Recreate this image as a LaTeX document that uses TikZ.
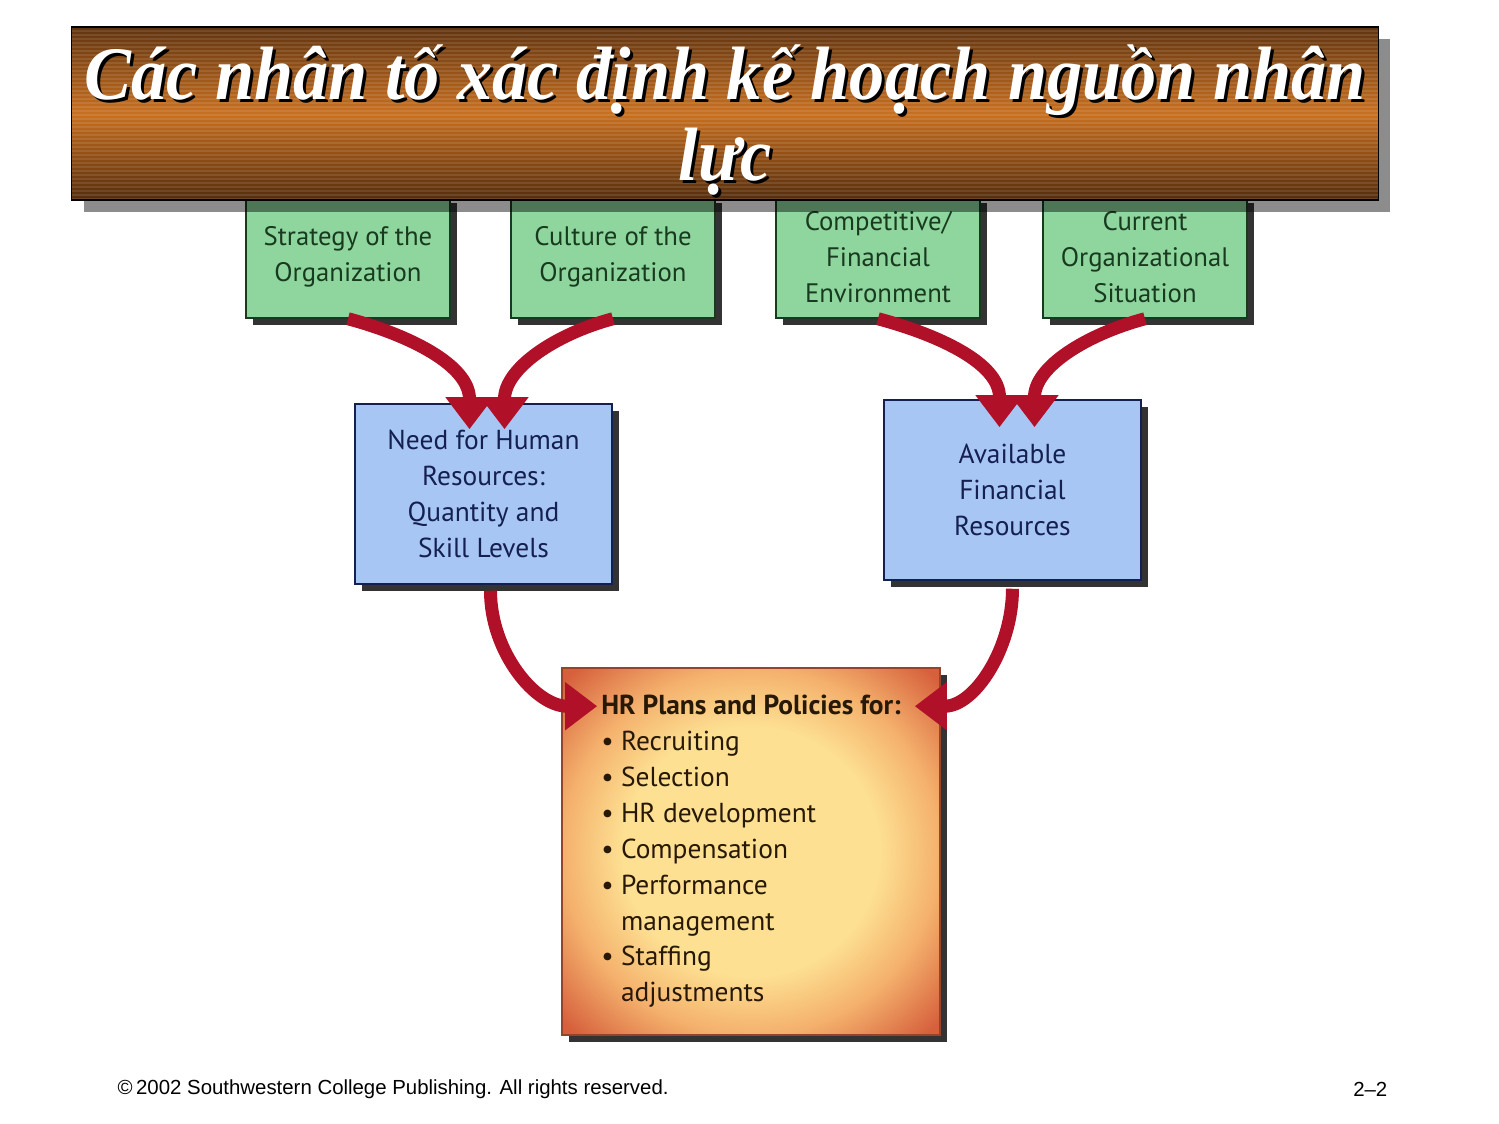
\documentclass[tikz,border=0pt]{standalone}
\usepackage{fontspec}
\usepackage{tikz}
\usetikzlibrary{calc,shadows,arrows.meta}

\newfontfamily\boxfont{PT Sans}
\newfontfamily\titlefont[FakeStretch=0.93]{Liberation Serif}
\newfontfamily\footfont{Liberation Sans}

\definecolor{factgreen}{RGB}{142,214,158}
\definecolor{factdark}{RGB}{24,58,30}
\definecolor{resblue}{RGB}{168,198,244}
\definecolor{resdark}{RGB}{20,32,80}
\definecolor{hrcenter}{RGB}{253,224,146}
\definecolor{hrmid}{RGB}{244,176,108}
\definecolor{hredge}{RGB}{214,96,60}
\definecolor{hrdark}{RGB}{40,24,6}
\definecolor{arrowred}{RGB}{176,16,40}
\definecolor{woodtop}{RGB}{96,52,16}
\definecolor{woodmid}{RGB}{200,112,32}
\definecolor{woodbot}{RGB}{84,44,12}
\pgfdeclareradialshading{hrglow}{\pgfpoint{0bp}{0bp}}{color(0bp)=(hrcenter); color(17bp)=(hrcenter); color(25bp)=(hrmid); color(34bp)=(hredge); color(50bp)=(hredge)}

\begin{document}
\begin{tikzpicture}[x=0.01cm, y=-0.01cm,
    factorbox/.style={draw=factdark, fill=factgreen, text=factdark, minimum width=2.04cm, minimum height=1.22cm, align=center,
        font=\boxfont\fontsize{7.6}{10.2}\selectfont, drop shadow={shadow xshift=0.07cm, shadow yshift=-0.07cm, fill=black, opacity=0.8}},
    resbox/.style={draw=resdark, fill=resblue, text=resdark, minimum width=2.57cm, minimum height=1.8cm, align=center,
        font=\boxfont\fontsize{7.8}{10.3}\selectfont, drop shadow={shadow xshift=0.07cm, shadow yshift=-0.07cm, fill=black, opacity=0.8}},
    planbox/.style={draw=hredge!70!black, shading=hrglow, text=hrdark, minimum width=3.78cm, minimum height=3.67cm, align=left,
        font=\boxfont\fontsize{7.8}{10.2}\selectfont, drop shadow={shadow xshift=0.07cm, shadow yshift=-0.07cm, fill=black, opacity=0.8}},
    banner/.style={draw=black, minimum width=13.06cm, minimum height=1.73cm, top color=woodtop, bottom color=woodbot, middle color=woodmid,
        drop shadow={shadow xshift=0.12cm, shadow yshift=-0.12cm, fill=black, opacity=0.45},
        path picture={\foreach \k in {1,...,43} \draw[white, opacity=0.1, line width=0.015cm]
            ([yshift=-\k*0.04cm]path picture bounding box.north west) -- ([yshift=-\k*0.04cm]path picture bounding box.north east);}},
    titletext/.style={anchor=base, font=\titlefont\bfseries\itshape\fontsize{21.5}{23}\selectfont},
    flowarrow/.style={arrowred, line width=0.13cm, -{Triangle[width=0.46cm, length=0.32cm]}},
    footnote/.style={font=\footfont\fontsize{5.8}{7}\selectfont, text=black, inner sep=0pt}]

    \useasboundingbox (0,0) rectangle (1499,1124);

    \node[factorbox] (strat) at (348,257) {Strategy of the\\Organization};
    \node[factorbox] (cult) at (613,257) {Culture of the\\Organization};
    \node[factorbox] (comp) at (878,257) {Competitive/\\Financial\\Environment};
    \node[factorbox] (curr) at (1145,257) {Current\\Organizational\\Situation};

    \node[banner] (banner) at (725,113.5) {};
    \node[titletext, text=black] (title1s) at (728,103) {Các nhân tố xác định kế hoạch nguồn nhân};
    \node[titletext, text=white] (title1) at (725,100) {Các nhân tố xác định kế hoạch nguồn nhân};
    \node[titletext, text=black] (title2s) at (728,183) {lực};
    \node[titletext, text=white] (title2) at (725,180) {lực};

    \node[resbox] (need) at (483.5,494) {Need for Human\\Resources:\\Quantity and\\Skill Levels};
    \node[resbox] (fin) at (1012.5,490) {Available\\Financial\\Resources};

    \node[planbox] (hr) at (751,851.5) {\textbf{HR Plans and Policies for:}\\
        • Recruiting\\
        • Selection\\
        • HR development\\
        • Compensation\\
        • Performance\\
        \phantom{• }management\\
        • Staffing\\
        \phantom{• }adjustments};

    \draw[flowarrow] (strat.south) to[out=-15, in=90] ($(need.north)+(-14,26)$);
    \draw[flowarrow] (cult.south) to[out=195, in=90] ($(need.north)+(21,26)$);
    \draw[flowarrow] (comp.south) to[out=-15, in=90] ($(fin.north)+(-13,28)$);
    \draw[flowarrow] (curr.south) to[out=195, in=90] ($(fin.north)+(22,28)$);
    \draw[flowarrow] ($(need.south)+(7,6)$) to[out=-90, in=180] ($(hr.north west)+(36,39)$);
    \draw[flowarrow] ($(fin.south)+(0,8)$) to[out=-90, in=0] ($(hr.north east)+(-26,39)$);

    \node[footnote, anchor=west] (copy) at (117,1089) {©\,2002 Southwestern College Publishing. All rights reserved.};
    \node[footnote, anchor=east] (page) at (1388,1089) {2–2};
\end{tikzpicture}
\end{document}
